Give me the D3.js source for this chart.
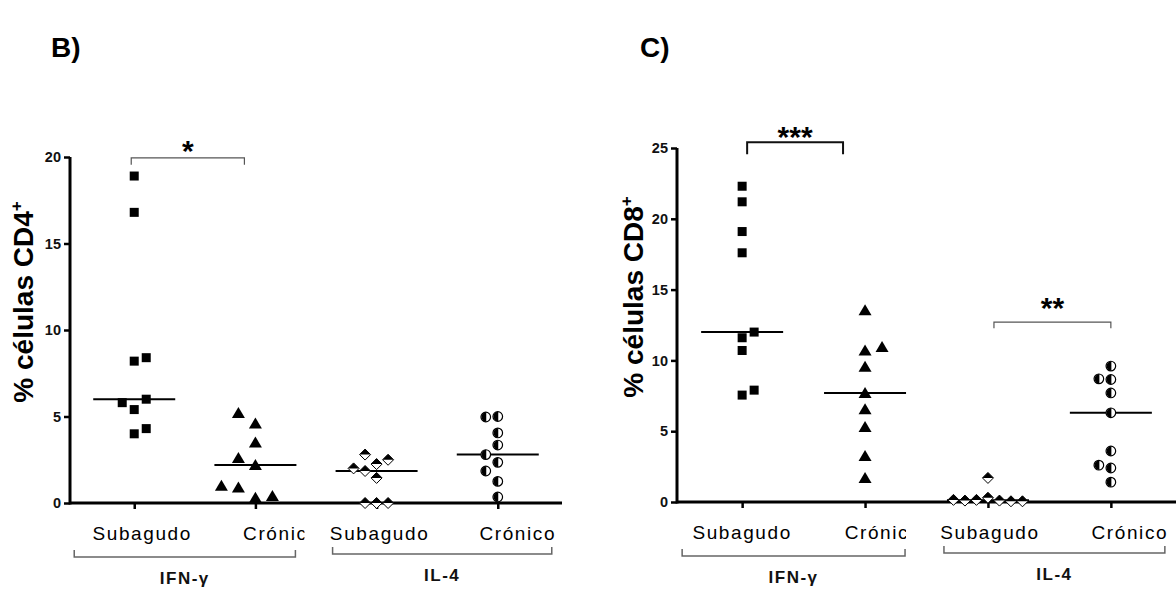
<!DOCTYPE html>
<html>
<head>
<meta charset="utf-8">
<script src="https://cdn.jsdelivr.net/npm/d3@7"></script>
<style>
  body { margin: 0; background: #fff; }
  svg { display: block; font-family: Arial, "Liberation Sans", sans-serif; }
</style>
</head>
<body>
<svg id="chart" width="1176" height="591"></svg>
<script>
// categories
const stages = ["Subagudo", "Crónico"];
const cytokines = ["IFN-γ", "IL-4"];
const groupKeys = ["IFN-γ|Subagudo", "IFN-γ|Crónico", "IL-4|Subagudo", "IL-4|Crónico"];

// % CD4+ cells (panel B)
const cd4IfnSubagudo = [18.9, 16.8, 8.2, 8.4, 5.4, 6.0, 5.8, 4.0, 4.3];
const cd4IfnCronico  = [4.6, 5.2, 3.5, 2.2, 2.6, 0.3, 0.9, 0.4, 1.0];
const cd4Il4Subagudo = [1.45, 2.25, 2.8, 2.5, 1.85, 2.0, 0, 0, 0];
const cd4Il4Cronico  = [5.0, 4.97, 4.05, 3.35, 2.35, 2.8, 1.85, 1.25, 0.35];

// % CD8+ cells (panel C)
const cd8IfnSubagudo = [22.3, 21.2, 19.1, 17.6, 11.6, 12.0, 10.7, 7.55, 7.9];
const cd8IfnCronico  = [13.55, 10.7, 10.95, 9.55, 7.7, 6.55, 5.3, 3.25, 1.7];
const cd8Il4Subagudo = [0.3, 0.1, 0.15, 0.05, 0.1, 0.05, 0.15, 1.7];
const cd8Il4Cronico  = [9.6, 8.65, 8.7, 7.7, 6.3, 3.6, 2.4, 2.6, 1.4];

const cd4Ticks = [0, 5, 10, 15, 20];
const cd8Ticks = [0, 5, 10, 15, 20, 25];

const shapes = ["square", "triangle", "diamond", "circle"];

const panels = [
  {
    label: "B)", labelX: 51, yTitle: "% células CD4", titleX: 33, titleY: 302,
    series: [cd4IfnSubagudo, cd4IfnCronico, cd4Il4Subagudo, cd4Il4Cronico],
    sides: [1, -1, -1, -1],
    yDomain: [0, 20], ticks: cd4Ticks,
    xRange: [70, 562], yRange: [503, 157],
    labelDx: [8, 26, 3, 20], labelY: 540,
    brackets: [
      { a: 0, b: 1, v: 19.95, dxA: -3, dxB: -11, drop: 7, text: "*", dy: 3, width: 1.2, color: "#555" }
    ],
    groupY: [557, 554], groupTextY: [584, 581]
  },
  {
    label: "C)", labelX: 640, yTitle: "% células CD8", titleX: 643, titleY: 297,
    series: [cd8IfnSubagudo, cd8IfnCronico, cd8Il4Subagudo, cd8Il4Cronico],
    sides: [1, 1, 1, -1],
    yDomain: [0, 25], ticks: cd8Ticks,
    xRange: [677, 1176], yRange: [502, 148],
    labelDx: [0, 18, 2, 19], labelY: 539,
    brackets: [
      { a: 0, b: 1, v: 25.4, dxA: 5, dxB: -22, drop: 12, text: "***", dy: 5, width: 2, color: "#111" },
      { a: 2, b: 3, v: 12.7, dxA: 6, dxB: 0, drop: 6, text: "**", dy: -4, width: 1.2, color: "#555" }
    ],
    groupY: [556, 553], groupTextY: [583, 580]
  }
];

const svg = d3.select("#chart");
const defs = svg.append("defs");

// place dots side by side when they would overlap (column scatter)
function dodge(values, y, laneW, minGap, side) {
  const placed = [];
  const lanes = [0, side, -side, 2 * side, -2 * side, 3 * side, -3 * side, 4 * side];
  return values.map(v => {
    const py = y(v);
    const lane = lanes.find(l => !placed.some(p => p.lane === l && Math.abs(p.y - py) < minGap));
    placed.push({ y: py, lane });
    return { v, y: py, dx: lane * laneW };
  });
}

function drawMarker(g, shape, cx, cy) {
  if (shape === "square") {
    g.append("rect").attr("x", cx - 4.5).attr("y", cy - 4.5)
      .attr("width", 9).attr("height", 9).attr("fill", "#000");
  } else if (shape === "triangle") {
    g.append("path").attr("d", `M${cx},${cy - 6}L${cx + 6.5},${cy + 5}L${cx - 6.5},${cy + 5}Z`)
      .attr("fill", "#000");
  } else if (shape === "diamond") {
    g.append("path").attr("d", `M${cx},${cy - 5.5}L${cx + 5.5},${cy}L${cx},${cy + 5.5}L${cx - 5.5},${cy}Z`)
      .attr("fill", "#fff").attr("stroke", "#000").attr("stroke-width", 1);
    g.append("path").attr("d", `M${cx},${cy - 5.5}L${cx + 5.5},${cy}L${cx - 5.5},${cy}Z`)
      .attr("fill", "#000");
  } else {
    g.append("circle").attr("cx", cx).attr("cy", cy).attr("r", 4.8)
      .attr("fill", "#fff").attr("stroke", "#000").attr("stroke-width", 1.2);
    g.append("path").attr("d", `M${cx + 0.5},${cy - 4.8}A4.8,4.8 0 0 0 ${cx + 0.5},${cy + 4.8}Z`)
      .attr("fill", "#000");
  }
}

const laneWidths = [12, 17, 11.5, 12];
const gaps = [12, 16, 10, 12];

panels.forEach((p, pi) => {
  const x = d3.scalePoint().domain(groupKeys).range(p.xRange).padding(0.53);
  const y = d3.scaleLinear().domain(p.yDomain).range(p.yRange);
  const g = svg.append("g");

  // panel letter
  g.append("text").attr("x", p.labelX).attr("y", 57)
    .attr("font-size", 28).attr("font-weight", "bold").text(p.label);

  // y axis
  const yAxis = g.append("g").attr("transform", `translate(${p.xRange[0]},0)`)
    .call(d3.axisLeft(y).tickValues(p.ticks).tickSize(6).tickPadding(3).tickSizeOuter(0));
  yAxis.select(".domain").attr("stroke", "#000").attr("stroke-width", 3)
    .attr("d", `M0,${p.yRange[0] + 1.5}V${p.yRange[1]}`);
  yAxis.selectAll(".tick line").attr("stroke-width", 2.5);
  yAxis.selectAll(".tick text").attr("font-size", 14.5).attr("font-weight", "bold")
    .attr("font-family", "Arial, 'Liberation Sans', sans-serif").attr("fill", "#111");

  // x axis
  const xAxis = g.append("g").attr("transform", `translate(0,${p.yRange[0]})`)
    .call(d3.axisBottom(x).tickSize(6).tickFormat("").tickSizeOuter(0));
  xAxis.select(".domain").attr("stroke", "#000").attr("stroke-width", 3)
    .attr("d", `M${p.xRange[0]},0H${p.xRange[1]}`);
  xAxis.selectAll(".tick line").attr("stroke-width", 2.5);

  // y title with superscript
  const title = g.append("text")
    .attr("transform", `translate(${p.titleX},${p.titleY}) rotate(-90)`)
    .attr("text-anchor", "middle").attr("font-size", 28).attr("font-weight", "bold")
    .text(p.yTitle);
  title.append("tspan").attr("font-size", 17).attr("dy", -11).text("+");

  // category labels
  groupKeys.forEach((k, i) => {
    const stage = k.split("|")[1];
    const t = g.append("text").attr("x", x(k) + p.labelDx[i]).attr("y", p.labelY)
      .attr("text-anchor", "middle").attr("font-size", 19).attr("letter-spacing", 1.6)
      .text(stage);
    if (i === 1) {
      const start = x(k) + p.labelDx[i] - 40;
      const id = "clip" + pi;
      defs.append("clipPath").attr("id", id).append("rect")
        .attr("x", start - 5).attr("y", p.labelY - 25).attr("width", 68).attr("height", 35);
      t.attr("clip-path", `url(#${id})`);
    }
  });

  // cytokine brackets below the axis
  cytokines.forEach((c, ci) => {
    const x1 = x(groupKeys[ci * 2]) + (ci === 0 ? -60 : -44);
    const x2 = x(groupKeys[ci * 2 + 1]) + (ci === 0 ? 40 : 54);
    const by = p.groupY[ci];
    g.append("path").attr("d", `M${x1},${by - 7}V${by}H${x2}V${by - 7}`)
      .attr("fill", "none").attr("stroke", "#666").attr("stroke-width", 1.5);
    g.append("text").attr("x", (x1 + x2) / 2).attr("y", p.groupTextY[ci])
      .attr("text-anchor", "middle").attr("font-size", 17).attr("font-weight", "bold")
      .attr("letter-spacing", 1.5).attr("fill", "#111").text(c);
  });

  // dots and medians
  p.series.forEach((vals, si) => {
    const cx = x(groupKeys[si]);
    const dots = dodge(vals, y, laneWidths[si], gaps[si], p.sides[si]);
    const med = d3.median(vals);
    g.append("line").attr("x1", cx - 41).attr("x2", cx + 41)
      .attr("y1", y(med)).attr("y2", y(med))
      .attr("stroke", "#000").attr("stroke-width", 2);
    const mg = g.append("g");
    dots.forEach(d => drawMarker(mg, shapes[si], cx + d.dx, d.y));
  });

  // significance brackets
  p.brackets.forEach(b => {
    const x1 = x(groupKeys[b.a]) + b.dxA;
    const x2 = x(groupKeys[b.b]) + b.dxB;
    const by = y(b.v);
    g.append("path").attr("d", `M${x1},${by + b.drop}V${by}H${x2}V${by + b.drop}`)
      .attr("fill", "none").attr("stroke", b.color).attr("stroke-width", b.width);
    g.append("text").attr("x", (x1 + x2) / 2).attr("y", by + b.dy)
      .attr("text-anchor", "middle").attr("font-size", 30).attr("font-weight", "bold")
      .text(b.text);
  });
});
</script>
</body>
</html>
